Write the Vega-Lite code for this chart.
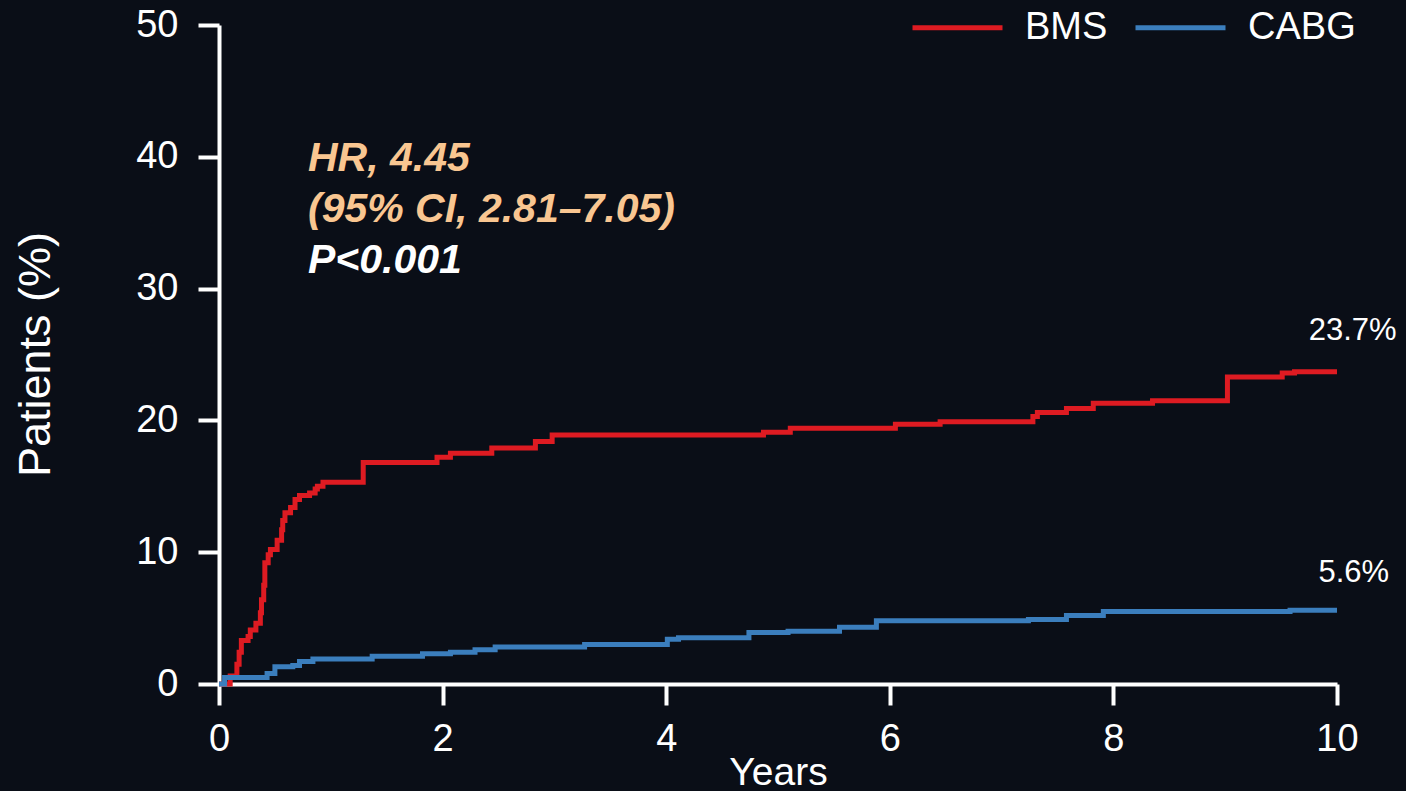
{
  "$schema": "https://vega.github.io/schema/vega-lite/v6.json",
  "width": 1118,
  "height": 659,
  "autosize": {"type": "none"},
  "padding": {"left": 219, "top": 25, "right": 69, "bottom": 107},
  "background": "#0a0e17",
  "config": {
    "font": "Liberation Sans",
    "view": {"stroke": null},
    "axis": {
      "domainColor": "white",
      "domainWidth": 4,
      "tickColor": "white",
      "tickWidth": 4,
      "tickSize": 21,
      "labelColor": "white",
      "labelFont": "Liberation Sans",
      "labelFontSize": 38,
      "labelFlush": false,
      "titleColor": "white",
      "titleFont": "Liberation Sans",
      "titleFontWeight": "normal",
      "grid": false
    }
  },
  "datasets": {
    "curves": [
      {"series": "BMS", "year": 0.0, "pct": 0.0},
      {"series": "BMS", "year": 0.1, "pct": 0.6},
      {"series": "BMS", "year": 0.16, "pct": 1.5},
      {"series": "BMS", "year": 0.18, "pct": 2.4},
      {"series": "BMS", "year": 0.2, "pct": 3.3},
      {"series": "BMS", "year": 0.26, "pct": 3.6},
      {"series": "BMS", "year": 0.28, "pct": 4.1},
      {"series": "BMS", "year": 0.33, "pct": 4.6},
      {"series": "BMS", "year": 0.37, "pct": 5.4},
      {"series": "BMS", "year": 0.38, "pct": 6.4},
      {"series": "BMS", "year": 0.4, "pct": 7.5},
      {"series": "BMS", "year": 0.41, "pct": 9.2},
      {"series": "BMS", "year": 0.44, "pct": 9.8},
      {"series": "BMS", "year": 0.46, "pct": 10.2},
      {"series": "BMS", "year": 0.52, "pct": 10.9},
      {"series": "BMS", "year": 0.56, "pct": 11.7},
      {"series": "BMS", "year": 0.57, "pct": 12.4},
      {"series": "BMS", "year": 0.59, "pct": 13.0},
      {"series": "BMS", "year": 0.64, "pct": 13.4},
      {"series": "BMS", "year": 0.68, "pct": 14.0},
      {"series": "BMS", "year": 0.72, "pct": 14.3},
      {"series": "BMS", "year": 0.81, "pct": 14.5},
      {"series": "BMS", "year": 0.86, "pct": 14.8},
      {"series": "BMS", "year": 0.88, "pct": 15.0},
      {"series": "BMS", "year": 0.93, "pct": 15.3},
      {"series": "BMS", "year": 1.29, "pct": 16.8},
      {"series": "BMS", "year": 1.95, "pct": 17.2},
      {"series": "BMS", "year": 2.07, "pct": 17.5},
      {"series": "BMS", "year": 2.44, "pct": 17.9},
      {"series": "BMS", "year": 2.83, "pct": 18.4},
      {"series": "BMS", "year": 2.98, "pct": 18.9},
      {"series": "BMS", "year": 4.87, "pct": 19.1},
      {"series": "BMS", "year": 5.11, "pct": 19.4},
      {"series": "BMS", "year": 6.05, "pct": 19.7},
      {"series": "BMS", "year": 6.45, "pct": 19.9},
      {"series": "BMS", "year": 7.28, "pct": 20.3},
      {"series": "BMS", "year": 7.32, "pct": 20.6},
      {"series": "BMS", "year": 7.58, "pct": 20.9},
      {"series": "BMS", "year": 7.82, "pct": 21.3},
      {"series": "BMS", "year": 8.35, "pct": 21.5},
      {"series": "BMS", "year": 9.02, "pct": 23.3},
      {"series": "BMS", "year": 9.51, "pct": 23.6},
      {"series": "BMS", "year": 9.62, "pct": 23.7},
      {"series": "BMS", "year": 10.0, "pct": 23.7},
      {"series": "CABG", "year": 0.0, "pct": 0.0},
      {"series": "CABG", "year": 0.05, "pct": 0.5},
      {"series": "CABG", "year": 0.43, "pct": 0.8},
      {"series": "CABG", "year": 0.5, "pct": 1.3},
      {"series": "CABG", "year": 0.66, "pct": 1.4},
      {"series": "CABG", "year": 0.72, "pct": 1.7},
      {"series": "CABG", "year": 0.84, "pct": 1.9},
      {"series": "CABG", "year": 1.37, "pct": 2.1},
      {"series": "CABG", "year": 1.82, "pct": 2.3},
      {"series": "CABG", "year": 2.07, "pct": 2.4},
      {"series": "CABG", "year": 2.29, "pct": 2.6},
      {"series": "CABG", "year": 2.47, "pct": 2.8},
      {"series": "CABG", "year": 3.27, "pct": 3.0},
      {"series": "CABG", "year": 4.01, "pct": 3.4},
      {"series": "CABG", "year": 4.11, "pct": 3.5},
      {"series": "CABG", "year": 4.74, "pct": 3.9},
      {"series": "CABG", "year": 5.09, "pct": 4.0},
      {"series": "CABG", "year": 5.55, "pct": 4.3},
      {"series": "CABG", "year": 5.88, "pct": 4.8},
      {"series": "CABG", "year": 7.24, "pct": 4.9},
      {"series": "CABG", "year": 7.58, "pct": 5.2},
      {"series": "CABG", "year": 7.91, "pct": 5.5},
      {"series": "CABG", "year": 9.58, "pct": 5.6},
      {"series": "CABG", "year": 10.0, "pct": 5.6}
    ],
    "notes": [
      {"kind": "stat", "label": "HR, 4.45", "year": 0.796, "pct": 38.9},
      {"kind": "stat", "label": "(95% CI, 2.81–7.05)", "year": 0.796, "pct": 35.05},
      {"kind": "p", "label": "P<0.001", "year": 0.796, "pct": 31.18}
    ],
    "ends": [
      {"label": "23.7%", "year": 10.14, "pct": 26.1},
      {"label": "5.6%", "year": 10.15, "pct": 7.74}
    ]
  },
  "layer": [
    {
      "data": {"name": "curves"},
      "mark": {"type": "line", "interpolate": "step-after", "strokeWidth": 5},
      "encoding": {
        "x": {
          "field": "year", "type": "quantitative",
          "scale": {"domain": [0, 10], "nice": false, "zero": false},
          "axis": {"values": [0, 2, 4, 6, 8, 10], "format": "d", "title": "Years", "titleFontSize": 39, "labelPadding": 15, "titleX": 559, "titleY": 100, "titleBaseline": "alphabetic", "titleAlign": "center"}
        },
        "y": {
          "field": "pct", "type": "quantitative",
          "scale": {"domain": [0, 50], "nice": false},
          "axis": {"values": [0, 10, 20, 30, 40, 50], "format": "d", "title": "Patients (%)", "titleFontSize": 45, "labelPadding": 20, "titleX": -184, "titleY": 329, "titleAngle": -90, "titleAlign": "center", "titleBaseline": "middle"}
        },
        "color": {
          "field": "series", "type": "nominal",
          "scale": {"domain": ["BMS", "CABG"], "range": ["#de1b22", "#3b7ebd"]},
          "legend": {
            "title": null,
            "orient": "none",
            "legendX": 691,
            "legendY": -45,
            "direction": "horizontal",
            "symbolType": "stroke",
            "symbolSize": 8100,
            "symbolStrokeWidth": 5,
            "labelFontSize": 38,
            "labelColor": "white",
            "labelFont": "Liberation Sans",
            "labelOffset": 20,
            "columnPadding": 17,
            "padding": 0
          }
        }
      }
    },
    {
      "data": {"name": "notes"},
      "transform": [{"filter": "datum.kind == 'stat'"}],
      "mark": {"type": "text", "align": "left", "baseline": "alphabetic", "fontSize": 41, "fontStyle": "italic", "fontWeight": "bold", "color": "#f9c691", "font": "Liberation Sans"},
      "encoding": {
        "x": {"field": "year", "type": "quantitative"},
        "y": {"field": "pct", "type": "quantitative"},
        "text": {"field": "label"}
      }
    },
    {
      "data": {"name": "notes"},
      "transform": [{"filter": "datum.kind == 'p'"}],
      "mark": {"type": "text", "align": "left", "baseline": "alphabetic", "fontSize": 41, "fontStyle": "italic", "fontWeight": "bold", "color": "white", "font": "Liberation Sans"},
      "encoding": {
        "x": {"field": "year", "type": "quantitative"},
        "y": {"field": "pct", "type": "quantitative"},
        "text": {"field": "label"}
      }
    },
    {
      "data": {"name": "ends"},
      "mark": {"type": "text", "align": "center", "baseline": "alphabetic", "fontSize": 31, "color": "white", "font": "Liberation Sans"},
      "encoding": {
        "x": {"field": "year", "type": "quantitative"},
        "y": {"field": "pct", "type": "quantitative"},
        "text": {"field": "label"}
      }
    }
  ]
}
